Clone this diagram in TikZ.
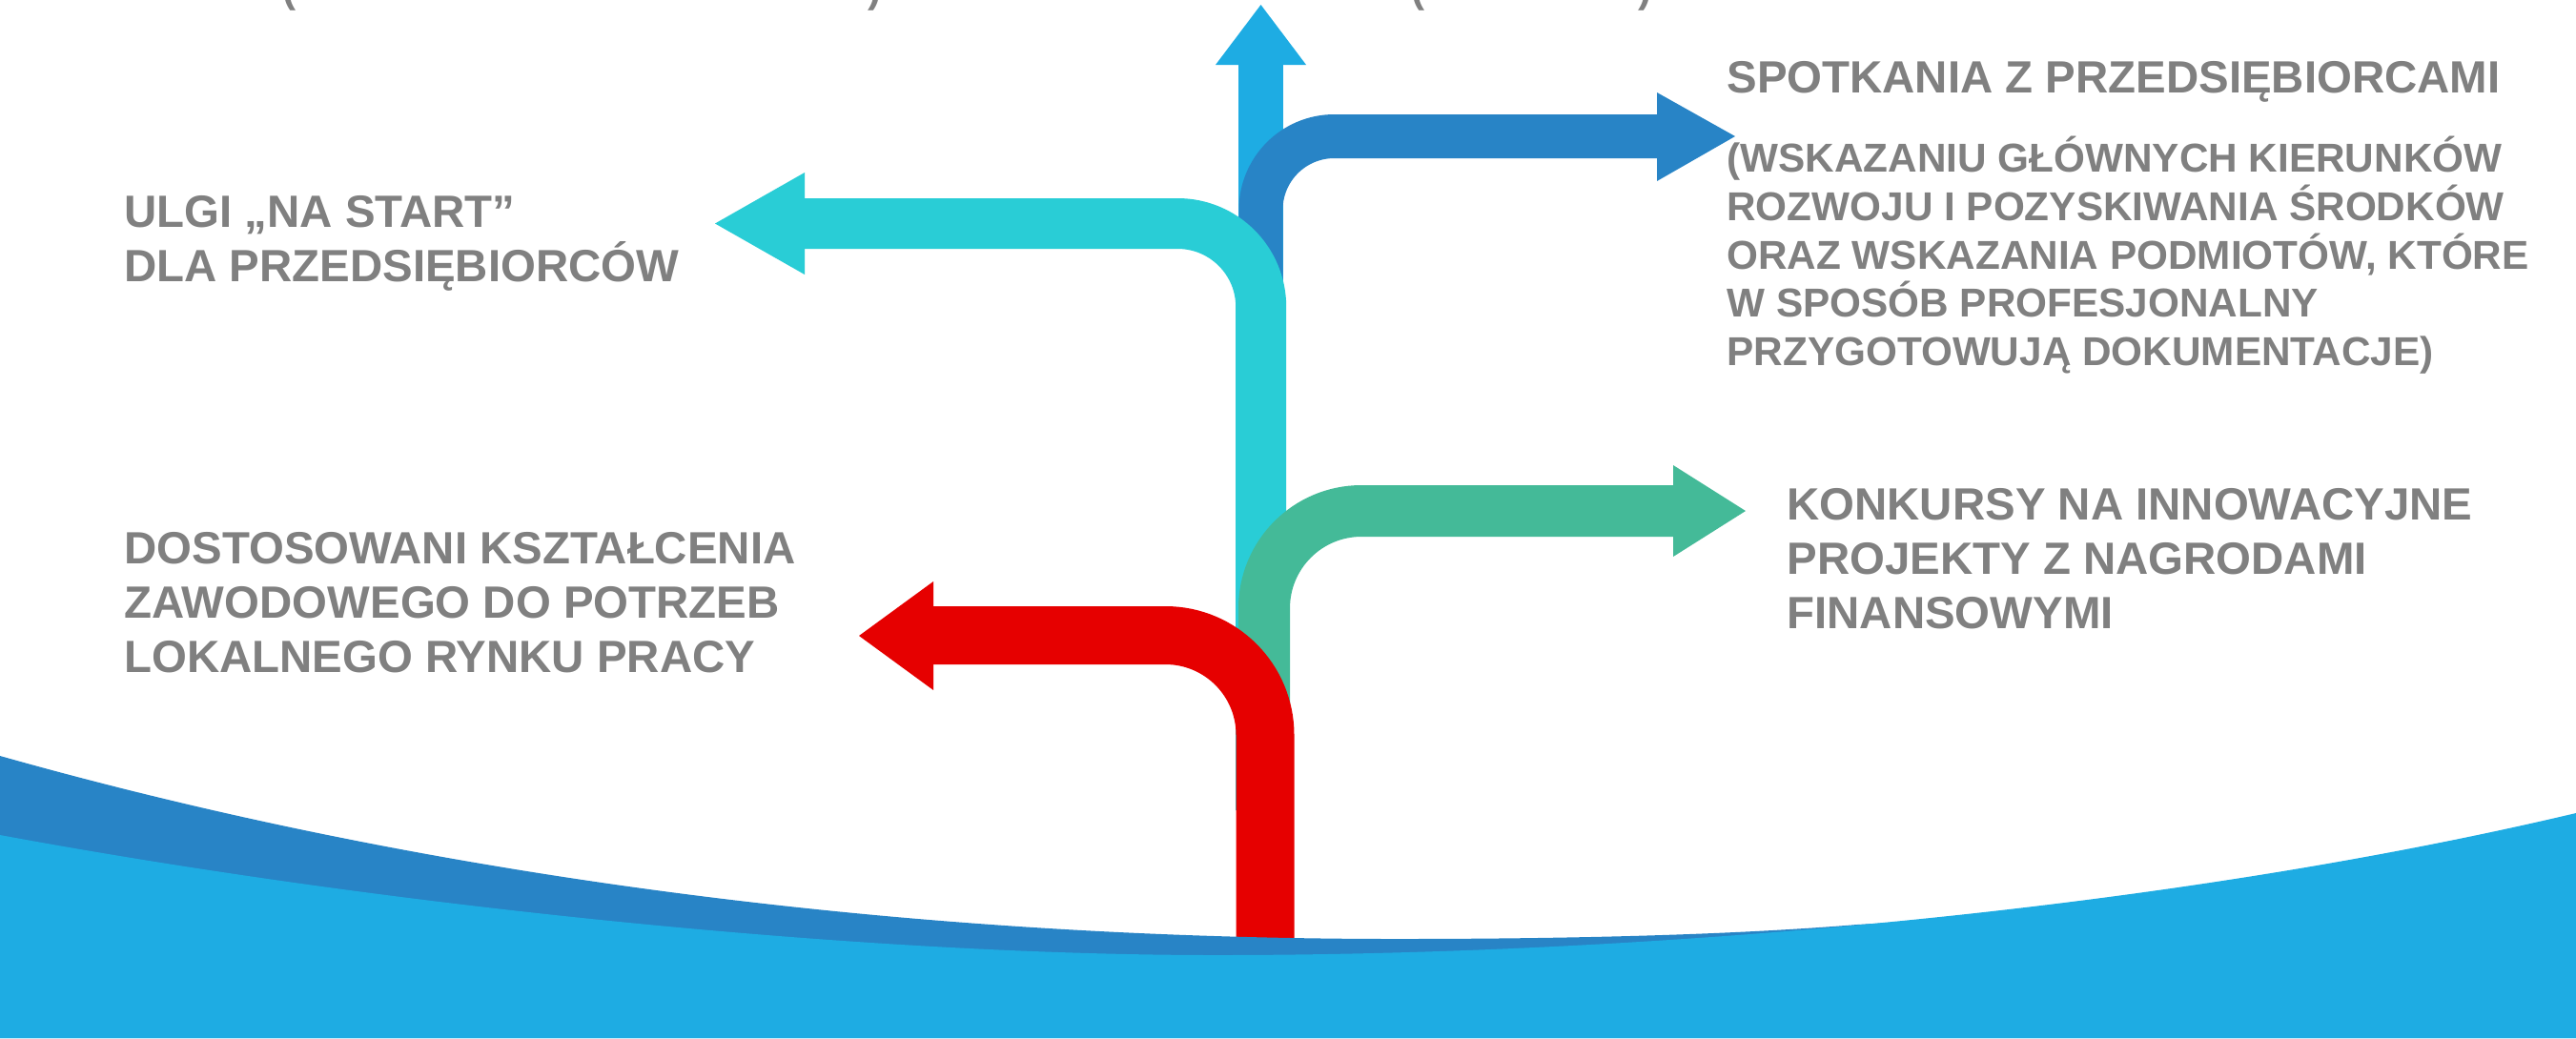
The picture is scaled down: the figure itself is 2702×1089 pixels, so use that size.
\documentclass[tikz,border=0pt]{standalone}
\usepackage{fontspec}
\newfontfamily\lsans{Liberation Sans}
\definecolor{lblue}{HTML}{1EACE3}
\definecolor{dblue}{HTML}{2884C6}
\definecolor{cyanc}{HTML}{29CDD6}
\definecolor{greenc}{HTML}{44BA98}
\definecolor{redc}{HTML}{E60000}
\definecolor{txtgray}{HTML}{808080}
\newcommand\mainfnt{\lsans\bfseries\fontsize{23.7}{28.5}\selectfont}
\newcommand\descfnt{\lsans\bfseries\fontsize{21.15}{25.4}\selectfont}
\tikzset{
  lbl/.style={anchor=base west, inner sep=0pt, text=txtgray, font=\mainfnt},
  dlbl/.style={anchor=base west, inner sep=0pt, text=txtgray, font=\descfnt},
}
\begin{document}
\begin{tikzpicture}[x=0.5pt,y=-0.5pt]
\useasboundingbox (0,0) rectangle (2702,1089);
\fill[white] (0,0) rectangle (2702,1089);

% cut-off text fragments at the top edge
\node[dlbl] (p1) at (296,2) {(};
\node[dlbl] (p2) at (910,2) {)};
\node[dlbl] (p3) at (1480,2) {(};
\node[dlbl] (p4) at (1718,2) {)};

% light blue arrow (up)
\coordinate (lbB) at (1322.5,400);
\coordinate (lbT) at (1322.5,60);
\draw[lblue, line width=23.5pt] (lbB) -- (lbT);
\fill[lblue] (1275,68) -- (1322.5,5) -- (1370,68) -- cycle;

% dark blue arrow (right, top)
\coordinate (dbB) at (1322.5,420);
\coordinate (dbC) at (1322.5,143);
\coordinate (dbE) at (1745,143);
\draw[dblue, line width=23pt, rounded corners=38.5pt] (dbB) -- (dbC) -- (dbE);
\fill[dblue] (1738,97) -- (1820,143) -- (1738,190) -- cycle;

% cyan arrow (left)
\coordinate (cyB) at (1322.7,850);
\coordinate (cyC) at (1322.7,234.5);
\coordinate (cyE) at (838,234.5);
\draw[cyanc, line width=26.5pt, rounded corners=43.75pt] (cyB) -- (cyC) -- (cyE);
\fill[cyanc] (844,181) -- (750,234.5) -- (844,288) -- cycle;

% green arrow (right)
\coordinate (grB) at (1326,900);
\coordinate (grC) at (1326,536);
\coordinate (grE) at (1761,536);
\draw[greenc, line width=27pt, rounded corners=51pt] (grB) -- (grC) -- (grE);
\fill[greenc] (1755,488) -- (1831,536) -- (1755,584) -- cycle;

% red arrow (left)
\coordinate (rdB) at (1327,1010);
\coordinate (rdC) at (1327,666.5);
\coordinate (rdE) at (973,666.5);
\draw[redc, line width=30.5pt, rounded corners=52.25pt] (rdB) -- (rdC) -- (rdE);
\fill[redc] (979,610) -- (901,667) -- (979,724) -- cycle;

% waves
\fill[dblue] (0,793) .. controls (450,920) and (950,985) .. (1465,985)
  .. controls (1700,985) and (1850,978) .. (1948,970)
  .. controls (2200,955) and (2450,945) .. (2702,940)
  -- (2702,1089) -- (0,1089) -- cycle;
\fill[lblue] (0,876) .. controls (400,950) and (900,1002) .. (1276,1002)
  .. controls (1700,1002) and (2250,960) .. (2702,853)
  -- (2702,1089) -- (0,1089) -- cycle;

% labels
\node[lbl] (ulgi) at (130,238) {\vtop{\hbox{ULGI „NA START”}\hbox{DLA PRZEDSIĘBIORCÓW}}};
\node[lbl] (dost) at (130,591) {\vtop{\hbox{DOSTOSOWANI KSZTAŁCENIA}\hbox{ZAWODOWEGO DO POTRZEB}\hbox{LOKALNEGO RYNKU PRACY}}};
\node[lbl] (spot) at (1811,97.5) {SPOTKANIA Z PRZEDSIĘBIORCAMI};
\node[dlbl] (spotd) at (1811,180.5) {\vtop{\hbox{(WSKAZANIU GŁÓWNYCH KIERUNKÓW}\hbox{ROZWOJU I POZYSKIWANIA ŚRODKÓW}\hbox{ORAZ WSKAZANIA PODMIOTÓW, KTÓRE}\hbox{W SPOSÓB PROFESJONALNY}\hbox{PRZYGOTOWUJĄ DOKUMENTACJE)}}};
\node[lbl] (konk) at (1874,545) {\vtop{\hbox{KONKURSY NA INNOWACYJNE}\hbox{PROJEKTY Z NAGRODAMI}\hbox{FINANSOWYMI}}};
\end{tikzpicture}
\end{document}
